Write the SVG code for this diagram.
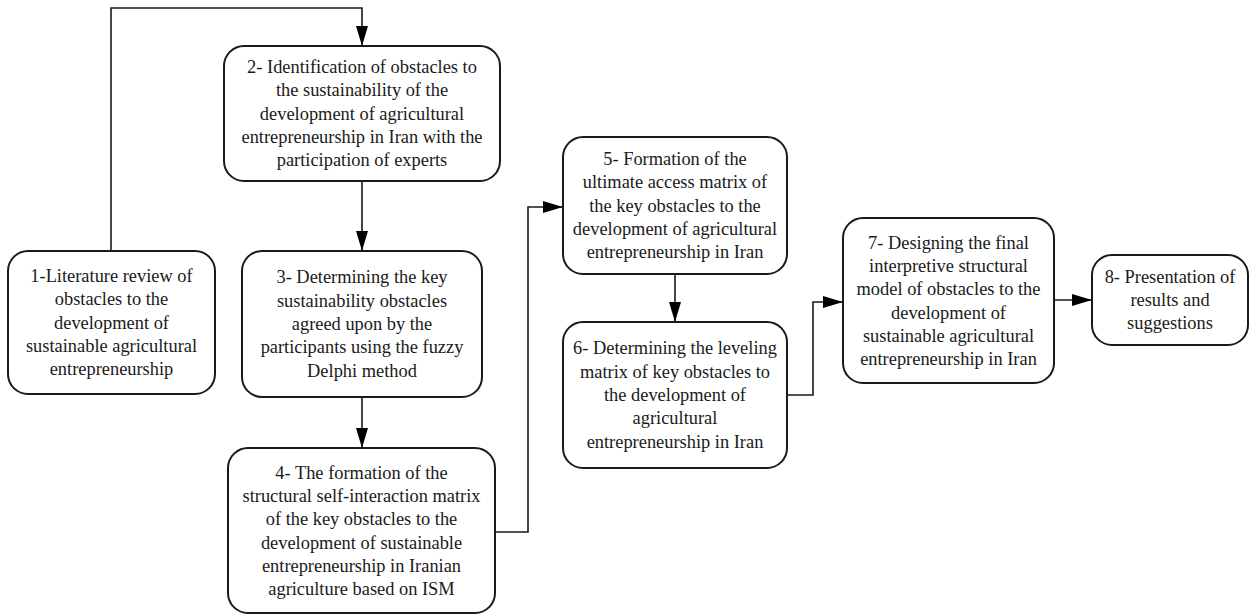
<svg xmlns="http://www.w3.org/2000/svg" width="1250" height="616" viewBox="0 0 1250 616">
<style>
.box{fill:#fff;stroke:#1a1a1a;stroke-width:2}
.t{font-family:"Liberation Serif","Times New Roman",serif;font-size:18.4px;fill:#1a1a1a;text-anchor:middle}
.c{fill:none;stroke:#1a1a1a;stroke-width:1.6;marker-end:url(#ah)}
</style>
<defs>
<marker id="ah" markerUnits="userSpaceOnUse" markerWidth="20" markerHeight="12" refX="19" refY="6" orient="auto" viewBox="0 0 20 12">
<path d="M0,0 L20,6 L0,12 z" fill="#000"/>
</marker>
</defs>
<rect width="1250" height="616" fill="#fff"/>
<g id="connectors">
<path class="c" d="M111,251 V8 H362 V45"/>
<path class="c" d="M362,181 V250"/>
<path class="c" d="M362,397 V447"/>
<path class="c" d="M495,532 H528 V207 H562"/>
<path class="c" d="M675,274 V321"/>
<path class="c" d="M787,395 H813 V302 H842"/>
<path class="c" d="M1054,300 H1091"/>
</g>
<g id="node1">
<rect class="box" x="8" y="251" width="207" height="143" rx="20"/>
<text class="t" x="111.5"><tspan x="111.5" y="282">1-Literature review of</tspan><tspan x="111.5" y="305.3">obstacles to the</tspan><tspan x="111.5" y="328.6">development of</tspan><tspan x="111.5" y="351.9">sustainable agricultural</tspan><tspan x="111.5" y="375.2">entrepreneurship</tspan></text>
</g>
<g id="node2">
<rect class="box" x="224" y="46" width="276" height="135" rx="20"/>
<text class="t"><tspan x="362" y="73">2- Identification of obstacles to</tspan><tspan x="362" y="96.3">the sustainability of the</tspan><tspan x="362" y="119.6">development of agricultural</tspan><tspan x="362" y="142.9">entrepreneurship in Iran with the</tspan><tspan x="362" y="166.2">participation of experts</tspan></text>
</g>
<g id="node3">
<rect class="box" x="242" y="251" width="240" height="146" rx="20"/>
<text class="t"><tspan x="362" y="283.4">3- Determining the key</tspan><tspan x="362" y="306.7">sustainability obstacles</tspan><tspan x="362" y="330">agreed upon by the</tspan><tspan x="362" y="353.3">participants using the fuzzy</tspan><tspan x="362" y="376.6">Delphi method</tspan></text>
</g>
<g id="node4">
<rect class="box" x="228" y="448" width="267" height="165" rx="20"/>
<text class="t"><tspan x="361.5" y="478.8">4- The formation of the</tspan><tspan x="361.5" y="502.1">structural self-interaction matrix</tspan><tspan x="361.5" y="525.4">of the key obstacles to the</tspan><tspan x="361.5" y="548.7">development of sustainable</tspan><tspan x="361.5" y="572">entrepreneurship in Iranian</tspan><tspan x="361.5" y="595.3">agriculture based on ISM</tspan></text>
</g>
<g id="node5">
<rect class="box" x="563" y="137" width="224" height="137" rx="20"/>
<text class="t"><tspan x="675" y="164.9">5- Formation of the</tspan><tspan x="675" y="188.2">ultimate access matrix of</tspan><tspan x="675" y="211.5">the key obstacles to the</tspan><tspan x="675" y="234.8">development of agricultural</tspan><tspan x="675" y="258.1">entrepreneurship in Iran</tspan></text>
</g>
<g id="node6">
<rect class="box" x="563" y="322" width="224" height="146" rx="20"/>
<text class="t"><tspan x="675" y="354.4">6- Determining the leveling</tspan><tspan x="675" y="377.7">matrix of key obstacles to</tspan><tspan x="675" y="401">the development of</tspan><tspan x="675" y="424.3">agricultural</tspan><tspan x="675" y="447.6">entrepreneurship in Iran</tspan></text>
</g>
<g id="node7">
<rect class="box" x="843" y="218" width="211" height="165" rx="20"/>
<text class="t"><tspan x="948.5" y="248.8">7- Designing the final</tspan><tspan x="948.5" y="272.1">interpretive structural</tspan><tspan x="948.5" y="295.4">model of obstacles to the</tspan><tspan x="948.5" y="318.7">development of</tspan><tspan x="948.5" y="342">sustainable agricultural</tspan><tspan x="948.5" y="365.3">entrepreneurship in Iran</tspan></text>
</g>
<g id="node8">
<rect class="box" x="1092" y="255" width="156" height="90" rx="20"/>
<text class="t"><tspan x="1170" y="282.7">8- Presentation of</tspan><tspan x="1170" y="306">results and</tspan><tspan x="1170" y="329.3">suggestions</tspan></text>
</g>
</svg>
